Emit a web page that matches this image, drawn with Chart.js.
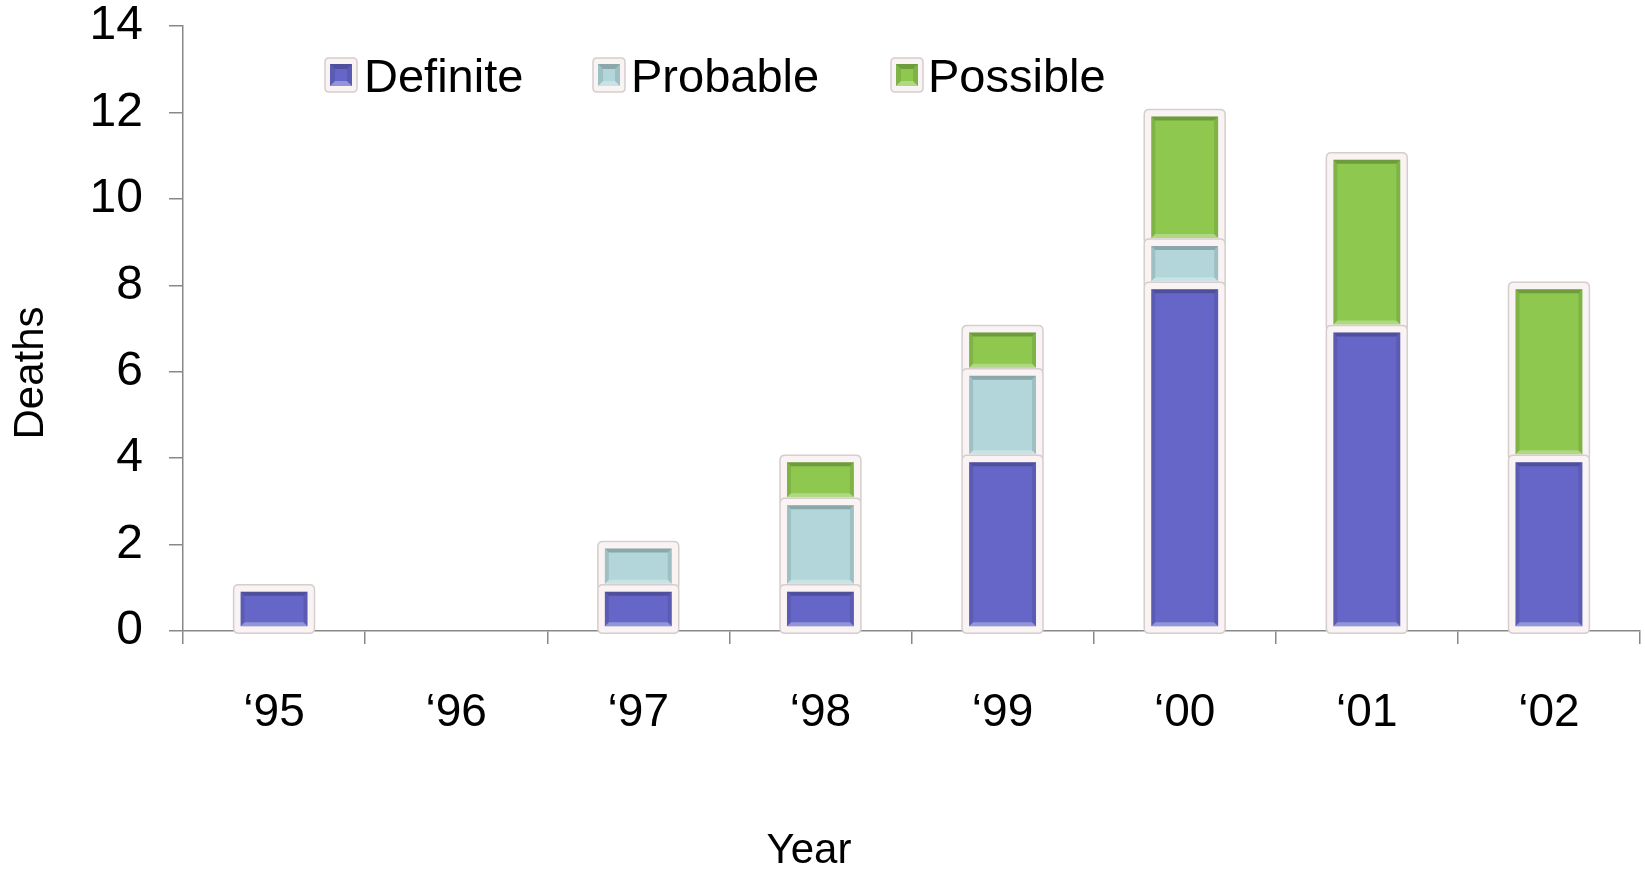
<!DOCTYPE html>
<html>
<head>
<meta charset="utf-8">
<script src="https://cdn.jsdelivr.net/npm/chart.js@4.4.0/dist/chart.umd.min.js"></script>
<style>
    body { margin: 0; background: #fff; }
</style>
</head>
<body>
<canvas id="deathsChart" width="1645" height="869"></canvas>
<script>
const years = ['\u201895', '\u201896', '\u201897', '\u201898', '\u201899', '\u201800', '\u201801', '\u201802'];
const definite = [1, 0, 1, 1, 4, 8, 7, 4];
const probable = [0, 0, 1, 2, 2, 1, 0, 0];
const possible = [0, 0, 0, 1, 1, 3, 4, 4];
const seriesNames = ['Definite', 'Probable', 'Possible'];
const seriesColors = ['#6666c8', '#b2d6da', '#8ec84e'];
const yMax = 14;
const yStep = 2;

const frameFill = '#f9f3f3';
const frameLine = '#d6cdcd';
const fontName = '"Liberation Sans", Arial, sans-serif';

function roundRect(ctx, x, y, w, h, r) {
    ctx.beginPath();
    ctx.moveTo(x + r, y);
    ctx.lineTo(x + w - r, y);
    ctx.quadraticCurveTo(x + w, y, x + w, y + r);
    ctx.lineTo(x + w, y + h - r);
    ctx.quadraticCurveTo(x + w, y + h, x + w - r, y + h);
    ctx.lineTo(x + r, y + h);
    ctx.quadraticCurveTo(x, y + h, x, y + h - r);
    ctx.lineTo(x, y + r);
    ctx.quadraticCurveTo(x, y, x + r, y);
    ctx.closePath();
}

// darker top / sides, lighter bottom, like the old office bevel
function drawBevel(ctx, x0, y0, x1, y1, t) {
    const quad = (pts, color) => {
        ctx.beginPath();
        ctx.moveTo(pts[0], pts[1]);
        ctx.lineTo(pts[2], pts[3]);
        ctx.lineTo(pts[4], pts[5]);
        ctx.lineTo(pts[6], pts[7]);
        ctx.closePath();
        ctx.fillStyle = color;
        ctx.fill();
    };
    quad([x0, y0, x1, y0, x1 - t, y0 + t, x0 + t, y0 + t], 'rgba(0,0,0,0.22)');
    quad([x0, y1, x1, y1, x1 - t, y1 - t, x0 + t, y1 - t], 'rgba(255,255,255,0.3)');
    quad([x0, y0, x0 + t, y0 + t, x0 + t, y1 - t, x0, y1], 'rgba(0,0,0,0.1)');
    quad([x1, y0, x1 - t, y0 + t, x1 - t, y1 - t, x1, y1], 'rgba(0,0,0,0.1)');
}

function barBox(bar) {
    const p = bar.getProps(['x', 'y', 'base', 'width'], true);
    return {
        left: p.x - p.width / 2,
        right: p.x + p.width / 2,
        top: Math.min(p.y, p.base),
        bottom: Math.max(p.y, p.base)
    };
}

const BORDER = 4;
const OUTSET = 3;

const framePlugin = {
    id: 'framePlugin',
    beforeDatasetDraw(chart, args) {
        const ctx = chart.ctx;
        ctx.save();
        args.meta.data.forEach(bar => {
            const b = barBox(bar);
            if (b.bottom - b.top < 1) return;
            roundRect(ctx, b.left - OUTSET, b.top - OUTSET, b.right - b.left + 2 * OUTSET, b.bottom - b.top + 2 * OUTSET, 5);
            ctx.fillStyle = frameFill;
            ctx.fill();
            ctx.strokeStyle = frameLine;
            ctx.lineWidth = 1.5;
            ctx.stroke();
        });
        ctx.restore();
    },
    afterDatasetDraw(chart, args) {
        const ctx = chart.ctx;
        ctx.save();
        args.meta.data.forEach(bar => {
            const b = barBox(bar);
            if (b.bottom - b.top < 1) return;
            drawBevel(ctx, b.left + BORDER, b.top + BORDER, b.right - BORDER, b.bottom - BORDER, 4);
        });
        ctx.restore();
    }
};

const legendItems = [
    { box: 325, text: 364 },
    { box: 593, text: 631 },
    { box: 891, text: 928 }
];

const chartText = {
    id: 'chartText',
    afterDraw(chart) {
        const ctx = chart.ctx;
        ctx.save();
        legendItems.forEach((item, i) => {
            const y = 58;
            ctx.fillStyle = frameFill;
            ctx.strokeStyle = frameLine;
            ctx.lineWidth = 1.5;
            roundRect(ctx, item.box, y, 32, 34, 4);
            ctx.fill();
            ctx.stroke();
            ctx.fillStyle = chart.data.datasets[i].backgroundColor;
            ctx.fillRect(item.box + 5, y + 6, 22, 22);
            drawBevel(ctx, item.box + 5, y + 6, item.box + 27, y + 28, 5);
            ctx.fillStyle = '#000';
            ctx.font = '47px ' + fontName;
            ctx.textBaseline = 'alphabetic';
            ctx.textAlign = 'left';
            ctx.fillText(chart.data.datasets[i].label, item.text, 92);
        });

        // axis titles
        ctx.fillStyle = '#000';
        ctx.font = '42px ' + fontName;
        ctx.textAlign = 'center';
        ctx.textBaseline = 'alphabetic';
        ctx.fillText('Year', 809, 863);
        ctx.translate(43, 373);
        ctx.rotate(-Math.PI / 2);
        ctx.fillText('Deaths', 0, 0);
        ctx.restore();
    }
};

const seriesData = [definite, probable, possible];

const ctx = document.getElementById('deathsChart').getContext('2d');
new Chart(ctx, {
    type: 'bar',
    data: {
        labels: years,
        datasets: seriesData.map((values, i) => ({
            label: seriesNames[i],
            data: values,
            backgroundColor: seriesColors[i],
            borderColor: frameFill,
            borderWidth: BORDER,
            borderSkipped: false,
            barPercentage: 0.9,
            categoryPercentage: 0.457
        }))
    },
    options: {
        responsive: false,
        animation: false,
        layout: { padding: { top: 26, right: 5, left: 0, bottom: 0 } },
        plugins: {
            legend: { display: false },
            tooltip: { enabled: false }
        },
        scales: {
            x: {
                stacked: true,
                grid: { drawOnChartArea: false, drawTicks: true, tickLength: 13, color: '#888', lineWidth: 1.5 },
                border: { color: '#888', width: 1.5 },
                ticks: { color: '#000', font: { family: fontName, size: 46, lineHeight: 1 }, padding: 46 },
                afterFit(scale) {
                    scale.height = 238;
                    scale.paddingLeft = 0;
                    scale.paddingRight = 0;
                }
            },
            y: {
                stacked: true,
                min: 0,
                max: yMax,
                grid: { drawOnChartArea: false, drawTicks: true, tickLength: 14, color: '#888', lineWidth: 1.5 },
                border: { color: '#888', width: 1.5 },
                ticks: { stepSize: yStep, color: '#000', font: { family: fontName, size: 48, lineHeight: 1 }, padding: 26 },
                afterFit(scale) {
                    scale.width = 183;
                    scale.paddingTop = 0;
                    scale.paddingBottom = 0;
                }
            }
        }
    },
    plugins: [framePlugin, chartText]
});
</script>
</body>
</html>
